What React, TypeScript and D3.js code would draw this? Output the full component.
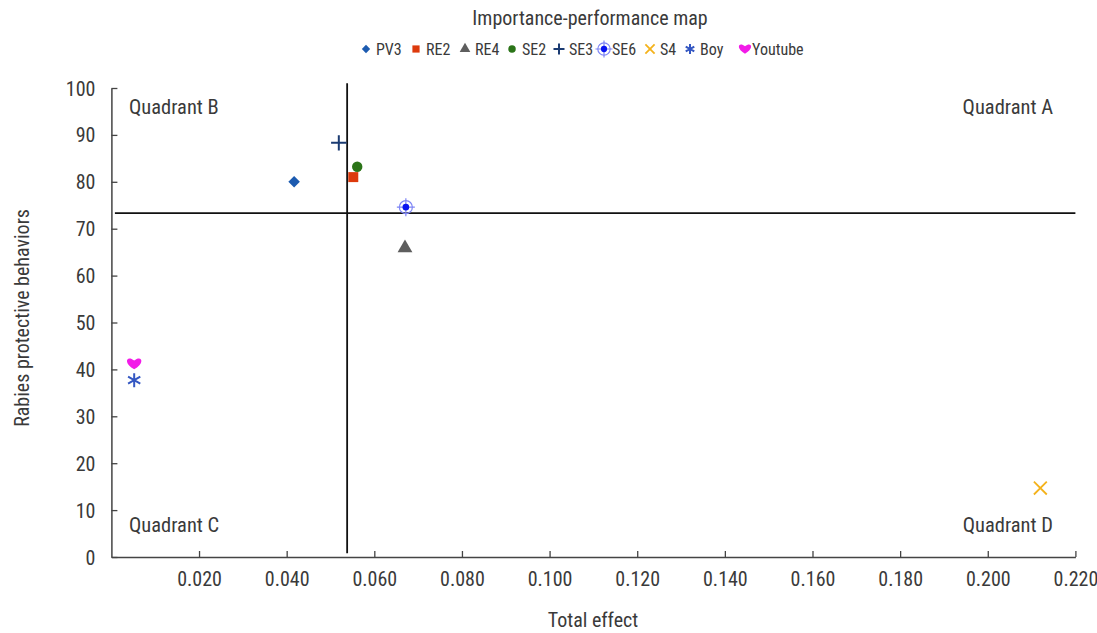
import React, { useEffect, useRef } from "react";
import * as d3 from "d3";

const W = 1097;
const H = 633;

const names = ["PV3", "RE2", "RE4", "SE2", "SE3", "SE6", "S4", "Boy", "Youtube"];
const totalEffect = [0.0417, 0.0552, 0.067, 0.0561, 0.0519, 0.0672, 0.212, 0.0052, 0.0052];
const performance = [80.0, 81.0, 65.9, 83.2, 88.3, 74.6, 14.7, 37.7, 41.2];
const kinds = ["diamond", "square", "triangle", "circle", "plus", "target", "times", "asterisk", "heart"];
const colors = ["#1c5bb0", "#dd3a0c", "#5e5e5e", "#2b7418", "#1b3b72", "#0a14f0", "#f4b21b", "#3457c2", "#f21be8"];

const xTicks = [0.02, 0.04, 0.06, 0.08, 0.1, 0.12, 0.14, 0.16, 0.18, 0.2, 0.22];
const yTicks = [0, 10, 20, 30, 40, 50, 60, 70, 80, 90, 100];
const quadrantCut = { x: 0.0538, y: 73.3 };
const quadrantLabels = ["Quadrant A", "Quadrant B", "Quadrant C", "Quadrant D"];

const legendX = [366, 416, 465, 512, 559, 604, 650, 690, 745];

const FONT = "'Liberation Sans Narrow', 'Roboto Condensed', Roboto, sans-serif";
const TXT = "#3a3a3a";

function heartPath(s: number) {
  const r = s;
  return `M0,${r * 0.8} C${-r * 1.7},${-r * 0.2} ${-r * 1.0},${-r * 1.3} 0,${-r * 0.45} C${r * 1.0},${-r * 1.3} ${r * 1.7},${-r * 0.2} 0,${r * 0.8}Z`;
}

function drawMarker(g: d3.Selection<SVGGElement, unknown, null, undefined>, kind: string, color: string, scale: number) {
  const s = scale;
  if (kind === "diamond") {
    g.append("path").attr("d", d3.symbol(d3.symbolDiamond2, 85 * s * s)()).attr("fill", color);
  } else if (kind === "square") {
    g.append("path").attr("d", d3.symbol(d3.symbolSquare, 100 * s * s)()).attr("fill", color);
  } else if (kind === "triangle") {
    g.append("path").attr("d", d3.symbol(d3.symbolTriangle, 95 * s * s)()).attr("fill", color);
  } else if (kind === "circle") {
    g.append("path").attr("d", d3.symbol(d3.symbolCircle, 85 * s * s)()).attr("fill", color);
  } else if (kind === "plus") {
    g.append("path").attr("d", d3.symbol(d3.symbolPlus, 80 * s * s)()).attr("fill", "none").attr("stroke", color).attr("stroke-width", 2);
  } else if (kind === "times") {
    g.append("path").attr("d", d3.symbol(d3.symbolTimes, 110 * s * s)()).attr("fill", "none").attr("stroke", color).attr("stroke-width", 1.8);
  } else if (kind === "asterisk") {
    g.append("path").attr("d", d3.symbol(d3.symbolAsterisk, 140 * s * s)()).attr("fill", "none").attr("stroke", color).attr("stroke-width", 2);
  } else if (kind === "heart") {
    g.append("path").attr("d", heartPath(7 * s)).attr("fill", color);
  } else if (kind === "target") {
    g.append("circle").attr("r", 6.5 * s).attr("fill", "none").attr("stroke", "#7f86f5").attr("stroke-width", 1.2);
    g.append("path")
      .attr("d", `M${-9 * s},0H${9 * s}M0,${-9 * s}V${9 * s}`)
      .attr("stroke", "#7f86f5").attr("stroke-width", 1.2);
    g.append("circle").attr("r", 3.3 * s).attr("fill", color);
  }
}

export default function App() {
  const ref = useRef<SVGSVGElement>(null);

  useEffect(() => {
    const svg = d3.select(ref.current);
    svg.selectAll("*").remove();

    const x = d3.scaleLinear().domain([0, 0.22]).range([111.4, 1075.4]);
    const y = d3.scaleLinear().domain([0, 100]).range([557, 88]);

    // Title
    svg.append("text").attr("x", 590).attr("y", 25).attr("text-anchor", "middle")
      .attr("font-family", FONT).attr("font-size", 20).attr("fill", TXT)
      .text("Importance-performance map");

    // Legend
    names.forEach((n, i) => {
      const g = svg.append("g").attr("transform", `translate(${legendX[i]},49)`);
      const sc = kinds[i] === "target" ? 0.95 : kinds[i] === "heart" ? 0.85 : kinds[i] === "asterisk" ? 0.7 : 0.72;
      drawMarker(g, kinds[i], colors[i], sc);
      const off = kinds[i] === "target" ? 8 : kinds[i] === "heart" ? 7 : 10;
      svg.append("text").attr("x", legendX[i] + off).attr("y", 55)
        .attr("font-family", FONT).attr("font-size", 16).attr("fill", TXT).text(n);
    });

    // Axes
    const ax = svg.append("g").attr("transform", `translate(0,${y(0)})`);
    ax.call(d3.axisBottom(x).tickValues(xTicks).tickSizeInner(-6).tickSizeOuter(0).tickFormat(d3.format(".3f")) as any);
    ax.select(".domain").attr("stroke", "#444").attr("stroke-width", 1.5);
    ax.selectAll(".tick line").attr("stroke", "#444").attr("stroke-width", 1.3);
    ax.selectAll(".tick text").attr("y", 15).attr("font-family", FONT).attr("font-size", 20);

    const ay = svg.append("g").attr("transform", `translate(${x(0)},0)`);
    ay.call(d3.axisLeft(y).tickValues(yTicks).tickSizeInner(-6).tickSizeOuter(0).tickFormat(d3.format("d")) as any);
    ay.select(".domain").attr("stroke", "#444").attr("stroke-width", 1.5);
    ay.selectAll(".tick line").attr("stroke", "#444").attr("stroke-width", 1.3);
    ay.selectAll(".tick text").attr("x", -16).attr("dy", "0.35em").attr("font-family", FONT).attr("font-size", 20);
    svg.selectAll(".tick text").attr("fill", TXT);

    // Axis titles
    svg.append("text").attr("x", 593).attr("y", 627).attr("text-anchor", "middle")
      .attr("font-family", FONT).attr("font-size", 20).attr("fill", TXT).text("Total effect");
    svg.append("text").attr("transform", `translate(29,${318}) rotate(-90)`).attr("text-anchor", "middle")
      .attr("font-family", FONT).attr("font-size", 20).attr("fill", TXT).text("Rabies protective behaviors");

    // Quadrant lines
    svg.append("line").attr("x1", x(quadrantCut.x)).attr("x2", x(quadrantCut.x))
      .attr("y1", y(101)).attr("y2", y(0.8)).attr("stroke", "#111").attr("stroke-width", 1.8);
    svg.append("line").attr("x1", x(0.0008)).attr("x2", x(0.22))
      .attr("y1", y(quadrantCut.y)).attr("y2", y(quadrantCut.y)).attr("stroke", "#111").attr("stroke-width", 1.8);

    // Quadrant labels
    const ql = [
      { t: quadrantLabels[0], x: 1053, y: 114, a: "end" },
      { t: quadrantLabels[1], x: 129, y: 114, a: "start" },
      { t: quadrantLabels[2], x: 129, y: 532, a: "start" },
      { t: quadrantLabels[3], x: 1053, y: 532, a: "end" },
    ];
    ql.forEach((q) => {
      svg.append("text").attr("x", q.x).attr("y", q.y).attr("text-anchor", q.a)
        .attr("font-family", FONT).attr("font-size", 20.5).attr("fill", TXT).text(q.t);
    });

    // Points
    names.forEach((n, i) => {
      const g = svg.append("g").attr("transform", `translate(${x(totalEffect[i])},${y(performance[i])})`);
      drawMarker(g, kinds[i], colors[i], 1);
    });
  }, []);

  return (
    <svg ref={ref} width={W} height={H} style={{ position: "absolute", left: 0, top: 0, background: "#fff" }} />
  );
}
